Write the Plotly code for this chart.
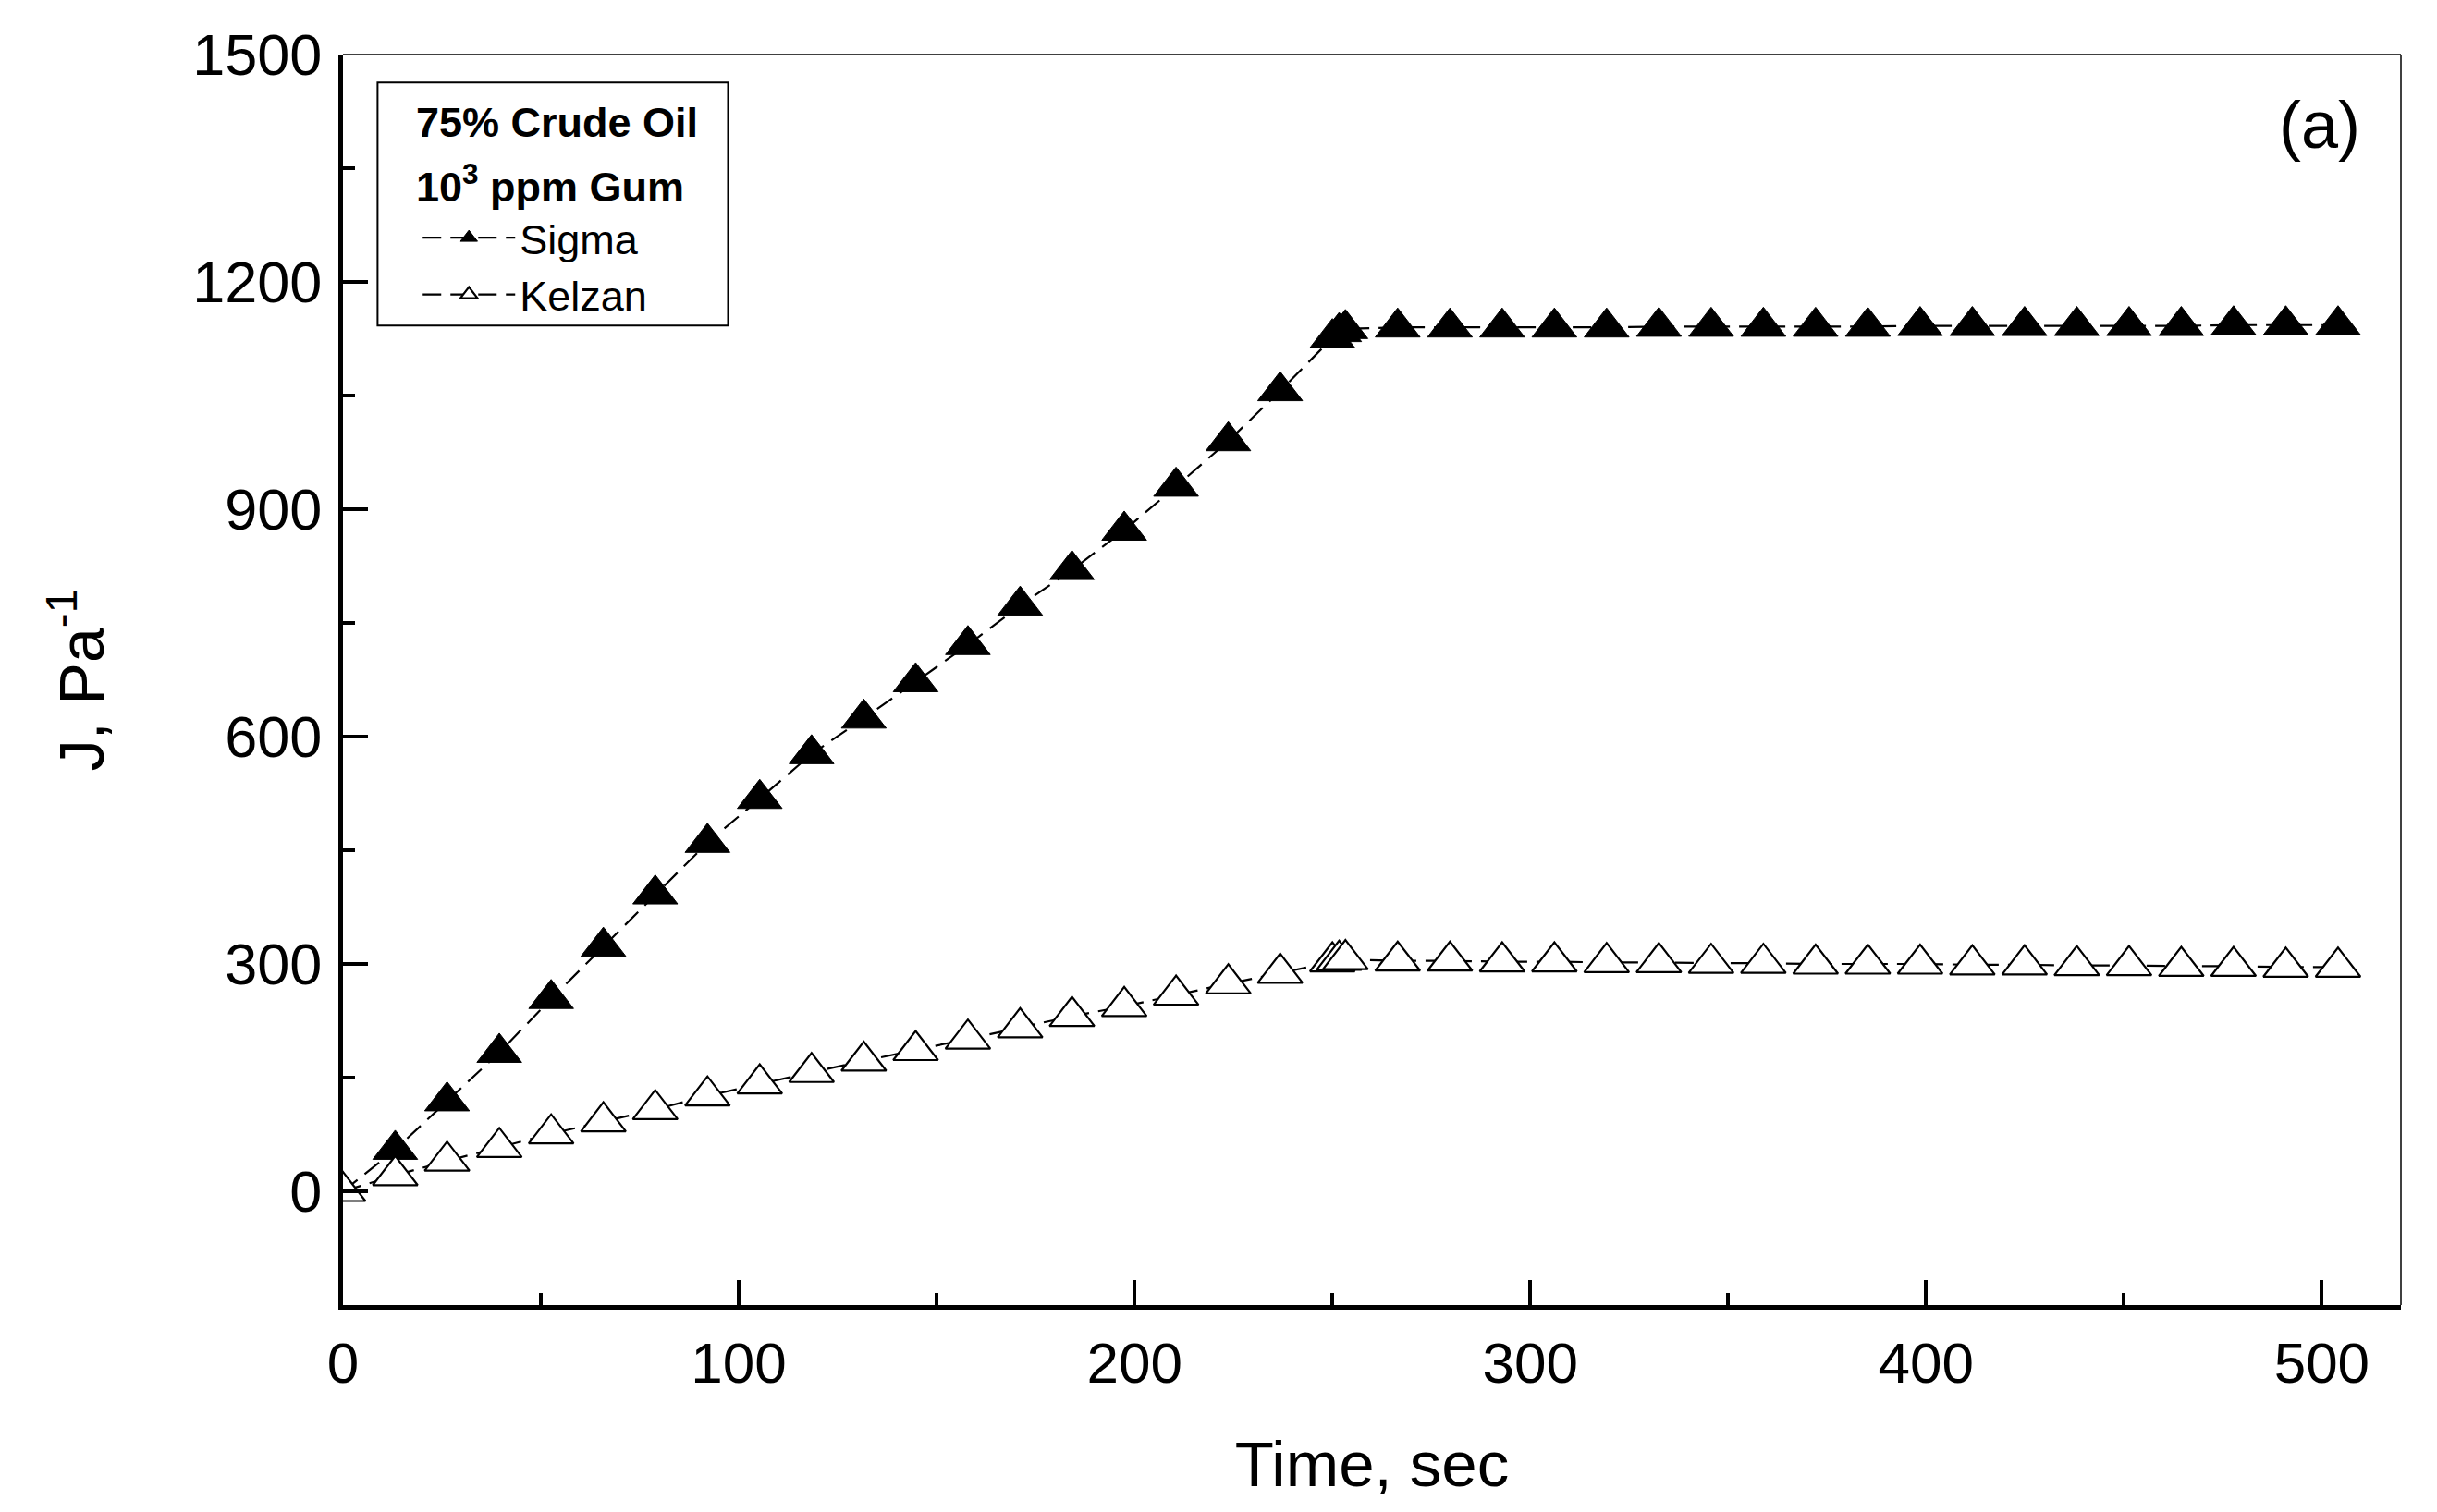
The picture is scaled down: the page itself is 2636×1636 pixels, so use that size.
import plotly.graph_objects as go

# Time, sec (same sampling for both gums)
time_s = [0, 13.2, 26.3, 39.5, 52.6, 65.8, 78.9, 92.1, 105.3, 118.4, 131.6, 144.7,
          157.9, 171.1, 184.2, 197.4, 210.5, 223.7, 236.8, 250.0, 251.7, 253.3,
          266.5, 279.7, 292.9, 306.1, 319.3, 332.5, 345.7, 358.9, 372.1, 385.3,
          398.5, 411.7, 424.9, 438.1, 451.3, 464.5, 477.7, 490.9, 504.1]

# Compliance J, 1/Pa
j_sigma = [0, 55, 119, 183, 254, 323, 392, 460, 518, 577, 624, 672, 721, 773, 820,
           872, 930, 990, 1056, 1126, 1134, 1138,
           1140, 1140, 1140, 1140, 1140, 1141, 1141, 1141, 1141, 1141, 1142, 1142,
           1142, 1142, 1142, 1142, 1143, 1143, 1143]
j_kelzan = [0, 21, 40, 58, 76, 92, 108, 126, 142, 157, 172, 186, 201, 216, 231,
            244, 259, 274, 288, 303, 305, 306,
            304, 304, 303, 303, 302, 302, 301, 301, 300, 300, 300, 299, 299, 298,
            298, 297, 297, 296, 296]

legend_head = ["<b>75% Crude Oil</b>", "<b>10<sup>3</sup> ppm Gum</b>"]

FONT = "Liberation Sans, Arial, sans-serif"

fig = go.Figure()

fig.add_trace(go.Scatter(
    x=time_s, y=j_sigma, name="Sigma", mode="lines+markers",
    line=dict(color="black", width=2.2, dash="20px,10px"),
    marker=dict(symbol="triangle-up", size=42, color="black",
                line=dict(color="black", width=1)),
))
fig.add_trace(go.Scatter(
    x=time_s, y=j_kelzan, name="Kelzan", mode="lines+markers",
    line=dict(color="black", width=2.2, dash="20px,10px"),
    marker=dict(symbol="triangle-up", size=42, color="white",
                line=dict(color="black", width=2.2)),
))

fig.update_xaxes(
    range=[0, 520], tickvals=[0, 100, 200, 300, 400, 500],
    ticks="inside", ticklen=27, tickwidth=4, tickcolor="black",
    minor=dict(tickvals=[50, 150, 250, 350, 450], ticks="inside", ticklen=13,
               tickwidth=4, tickcolor="black"),
    showline=True, linewidth=5, linecolor="black", mirror=False,
    showgrid=False, zeroline=False, automargin=False,
    tickfont=dict(family=FONT, size=62, color="black"), ticklabelstandoff=5,
    title=dict(text="Time, sec", font=dict(family=FONT, size=69, color="black"),
               standoff=53),
)
fig.update_yaxes(
    range=[-150, 1500], tickvals=[0, 300, 600, 900, 1200, 1500],
    ticks="inside", ticklen=27, tickwidth=4, tickcolor="black",
    minor=dict(tickvals=[150, 450, 750, 1050, 1350], ticks="inside", ticklen=13,
               tickwidth=4, tickcolor="black"),
    showline=True, linewidth=5, linecolor="black", mirror=False,
    showgrid=False, zeroline=False, automargin=False,
    tickfont=dict(family=FONT, size=63, color="black"), ticklabelstandoff=5,
    title=dict(text="J, Pa<sup>-1</sup>", font=dict(family=FONT, size=68, color="black"),
               standoff=75),
)

# thin top and right frame
fig.add_shape(type="line", xref="paper", yref="paper", x0=0, x1=1, y0=1, y1=1,
              line=dict(color="black", width=1.5))
fig.add_shape(type="line", xref="paper", yref="paper", x0=1, x1=1, y0=0, y1=1,
              line=dict(color="black", width=1.5))

# legend frame and heading
fig.add_shape(type="rect", xref="paper", yref="paper",
              x0=0.0168, x1=0.1871, y0=0.7832, y1=0.9776,
              line=dict(color="black", width=2), fillcolor="white", layer="below")
for txt, yy in zip(legend_head, [0.9458, 0.8964]):
    fig.add_annotation(text=txt, xref="paper", yref="paper", x=0.0344, y=yy,
                       xanchor="left", yanchor="middle", showarrow=False,
                       font=dict(family=FONT, size=45, color="black"))

fig.add_annotation(text="(a)", xref="paper", yref="paper", x=0.981, y=0.944,
                   xanchor="right", yanchor="middle", showarrow=False,
                   font=dict(family=FONT, size=72, color="black"))

fig.update_layout(
    width=2628, height=1628,
    margin=dict(l=363, r=39, t=51, b=224),
    paper_bgcolor="white", plot_bgcolor="white",
    showlegend=True,
    legend=dict(
        x=0.0365, y=0.88, xanchor="left", yanchor="top",
        bgcolor="rgba(0,0,0,0)", borderwidth=0,
        font=dict(family=FONT, size=45, color="black"),
        itemwidth=100, tracegroupgap=0,
    ),
)

fig.write_html("out.html")
